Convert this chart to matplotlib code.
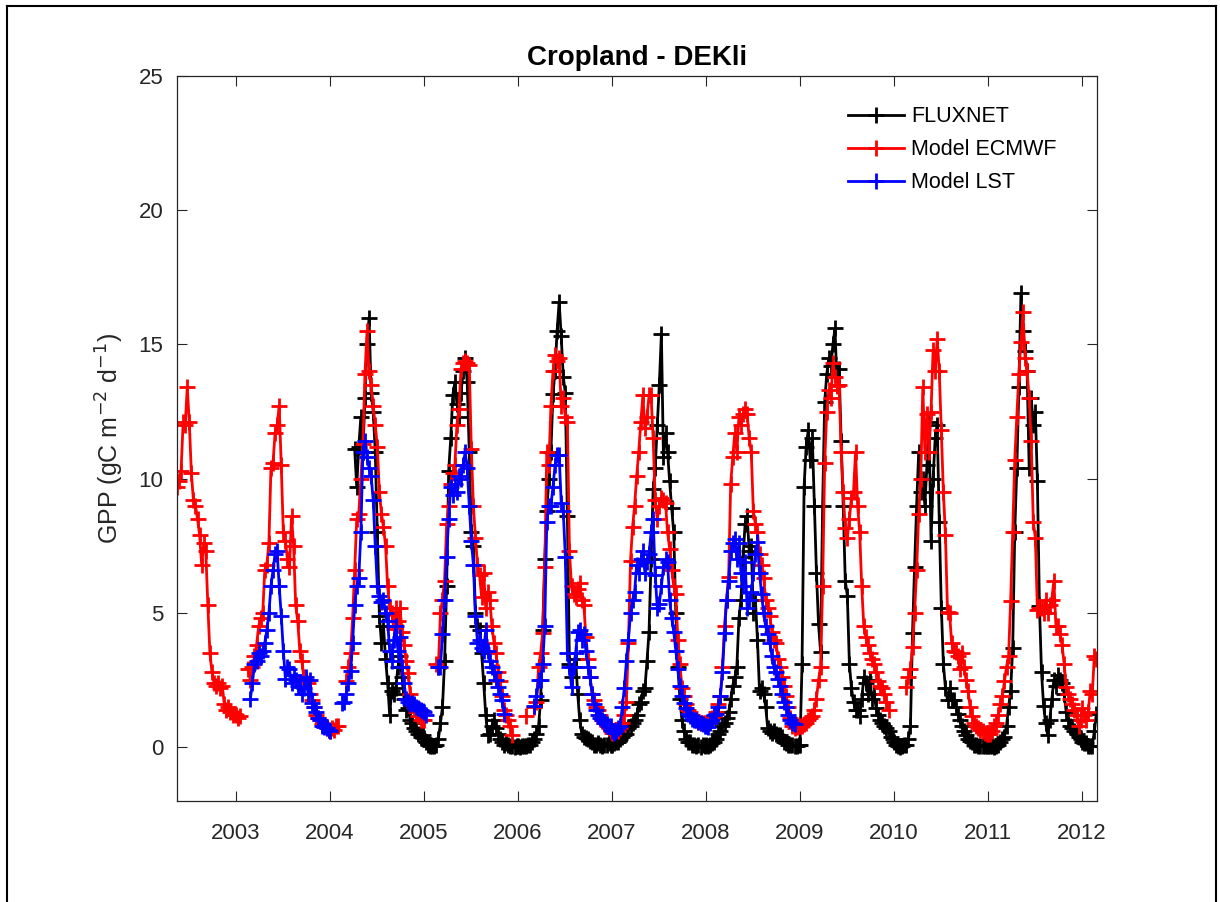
import numpy as np
import matplotlib
matplotlib.use('Agg')
from matplotlib import pyplot as plt
from matplotlib.lines import Line2D

nan = np.nan

# 8-day composites, 46 per year; the record runs from composite 17 of 2002
# to composite 7 of 2012
years = list(range(2002, 2013))
first_period = 17
last_period = 7
periods_per_year = 46

fluxnet = (
    [nan] * 29 +  # 2002
    [nan] * 46 +  # 2003
    [nan] * 12 + [11.1, 9.7, 11.2, 12.3, 11.0, 13.0, 15.0, 16.0, 13.2, 12.5, 11.0, 8.0, 4.9,
                   3.9, 4.5, 3.3, 2.4, 1.2, 2.1, 2.0, 2.2, 3.0, 3.4, 2.6, 1.8, 1.4, 1.45, 1.0,
                   0.9, 0.7, 0.6, 0.5, 0.4, 0.45] +  # 2004
    [0.35, 0.2, 0.1, 0.05, 0.05, 0.05, 0.1, 0.3, 0.9, 1.5, 3.2, 6.0, 10.3, 11.5, 13.1, 13.6,
     12.8, 12.3, 13.2, 14.0, 14.5, 13.6, 11.0, 8.0, 7.5, 5.0, 4.5, 4.35, 3.5, 2.4, 1.2, 0.45,
     0.5, 0.8, 1.0, 0.7, 0.5, 0.3, 0.2, 0.1, 0.15, 0.1, 0.05, 0.05, 0.0, 0.05] +  # 2005
    [0.05, 0.0, 0.05, 0.05, 0.05, 0.1, 0.1, 0.2, 0.3, 0.5, 0.8, 1.75, 4.35, 7.0, 8.8, 10.0,
     11.0, 13.15, 14.0, 15.5, 16.6, 15.3, 13.8, 13.2, 8.6, 3.1, 2.6, 3.0, 3.3, 2.0, 1.0, 0.5,
     0.4, 0.35, 0.3, 0.25, 0.2, 0.1, 0.1, 0.15, 0.1, 0.05, 0.1, 0.1, 0.15, 0.1] +  # 2006
    [0.1, 0.15, 0.2, 0.2, 0.3, 0.4, 0.45, 0.5, 0.7, 0.8, 0.9, 1.0, 1.2, 1.6, 1.7, 2.1, 2.2,
     3.2, 4.3, 7.0, 9.6, 10.4, 12.0, 13.5, 15.4, 10.8, 11.7, 11.0, 9.9, 8.9, 8.0, 5.0, 3.0,
     1.8, 1.0, 0.6, 0.3, 0.2, 0.2, 0.1, 0.1, 0.05, 0.1, 0.0, 0.1, 0.05] +  # 2007
    [0.1, 0.05, 0.1, 0.15, 0.2, 0.3, 0.5, 0.6, 0.8, 0.9, 1.1, 1.3, 1.8, 2.3, 2.6, 3.0, 4.8,
     5.5, 7.1, 8.3, 8.6, 7.3, 7.5, 5.0, 5.5, 4.0, 2.1, 2.2, 2.0, 1.5, 0.7, 0.6, 0.55, 0.6,
     0.5, 0.45, 0.45, 0.4, 0.2, 0.15, 0.1, 0.1, 0.1, 0.05, 0.05, 0.1] +  # 2008
    [0.1, 3.1, 9.7, 11.2, 11.8, 10.7, 11.5, 9.0, 6.5, 4.6, 3.55, 9.0, 12.85, 13.9, 14.5, 14.2,
     15.0, 15.6, 13.5, 14.1, 11.4, 9.0, 6.2, 5.65, 3.1, 2.2, 1.7, 1.4, 1.4, 1.15, 1.8, 2.6,
     2.4, 2.0, 2.5, 1.8, 2.0, 1.45, 1.2, 1.0, 0.9, 0.8, 0.7, 0.6, 0.4, 0.3] +  # 2009
    [0.2, 0.1, 0.05, 0.0, 0.05, 0.1, 0.1, 0.3, 0.8, 4.25, 6.7, 9.0, 11.0, 9.5, 10.0, 9.0,
     10.5, 12.1, 7.7, 10.0, 11.5, 12.0, 8.4, 5.2, 3.1, 2.2, 1.75, 2.2, 1.75, 1.75, 1.5, 1.25,
     1.0, 0.8, 0.6, 0.45, 0.3, 0.25, 0.2, 0.1, 0.07, 0.05, 0.05, 0.05, 0.05, 0.05] +  # 2010
    [0.05, 0.05, 0.05, 0.0, 0.05, 0.1, 0.2, 0.3, 0.4, 0.8, 1.5, 2.1, 3.7, 8.0, 10.4, 13.4,
     16.9, 15.5, 14.75, 14.0, 10.4, 13.0, 12.0, 12.5, 9.9, 5.25, 2.8, 1.55, 0.9, 0.45, 1.0,
     1.8, 2.5, 2.3, 2.7, 2.5, 2.4, 2.0, 1.3, 1.0, 0.8, 0.7, 0.6, 0.5, 0.4, 0.3] +  # 2011
    [0.2, 0.15, 0.15, 0.05, 0.05, 0.05, 0.6, 1.25]  # 2012
)

model_ecmwf = (
    [9.7, 9.9, 10.3, 12.1, 12.0, 13.4, 12.1, 10.2, 9.2, 9.0, 8.5, 7.9, 6.8, 7.6, 7.3, 5.3,
     3.5, 2.8, 2.4, 2.3, 2.4, 2.2, 2.3, 1.6, 1.4, 1.5, 1.3, 1.2, 1.25] +  # 2002
    [1.2, 1.1, 1.15, nan, nan, nan, 2.9, 2.5, 3.0, 3.4, 3.8, 4.5, 4.8, 5.0, 6.6, 6.8, 7.6,
     10.4, 10.6, 11.7, 12.0, 12.7, 10.5, 8.0, 7.7, 7.0, 6.7, 8.6, 7.5, 5.3, 4.7, 3.6, 3.2,
     2.6, 2.5, 2.4, 2.0, 1.75, 1.5, 1.2, 1.1, 1.0, 0.85, 0.8, 0.7, 0.65] +  # 2003
    [0.6, 0.7, 0.65, 0.8, 0.8, nan, nan, nan, 2.45, 3.0, 3.5, 4.8, 6.6, 8.5, 8.7, 10.0, 11.3,
     13.9, 15.5, 14.0, 13.5, 12.7, 12.0, 11.2, 9.5, 8.7, 8.2, 7.5, 6.0, 5.2, 5.0, 4.4, 5.2,
     4.7, 5.2, 4.3, 3.8, 3.2, 2.75, 2.0, 1.7, 1.5, 1.3, 1.15, 1.0, 1.0] +  # 2004
    [1.0, nan, nan, nan, nan, nan, 3.1, 3.0, 5.0, 5.5, 6.2, 8.3, 9.0, 9.8, 10.2, 10.5, 12.0,
     12.6, 14.1, 14.3, 14.4, 14.3, 14.25, 11.1, 9.0, 7.8, 6.8, 6.4, 5.6, 6.5, 5.2, 5.8, 5.5,
     4.5, 3.9, 3.5, 2.8, 2.45, 1.9, 1.4, 1.2, 1.0, 0.8, 0.45, nan, nan] +  # 2005
    [nan, nan, nan, nan, 1.15, nan, nan, nan, 1.5, 1.7, 3.0, 3.5, 4.25, 6.7, 11.0, 10.5, 12.7,
     14.0, 14.6, 14.4, 14.5, 12.7, 13.0, 12.3, 12.1, 7.3, 6.0, 5.7, 5.6, 5.9, 6.1, 5.5, 5.3,
     4.1, 3.3, 2.6, 2.0, 1.75, 1.5, 1.4, 1.2, 1.0, 0.9, 0.8, 0.7, 0.6] +  # 2006
    [0.55, 0.6, 0.65, 0.6, 0.7, 0.9, 1.2, 1.7, 3.9, 6.95, 8.2, 9.0, 10.1, 11.0, 12.1, 13.1,
     11.9, 12.3, 13.1, 13.1, 11.5, 9.2, 8.5, 9.0, 9.3, 9.2, 9.1, 8.0, 7.4, 6.6, 6.0, 5.7, 4.0,
     3.1, 2.2, 1.9, 1.6, 1.4, 1.3, 1.2, 1.1, 1.0, 0.95, 0.9, 0.9, 0.9] +  # 2007
    [0.9, 0.9, 1.0, 1.1, 1.15, 1.3, 1.6, 1.9, 3.0, 4.5, 5.5, 6.35, 9.8, 10.8, 11.7, 11.0,
     12.3, 12.0, 12.4, 12.6, 12.4, 11.5, 11.0, 8.8, 8.3, 8.0, 7.2, 6.8, 6.3, 5.5, 5.2, 4.9,
     4.3, 4.0, 3.9, 3.3, 3.0, 2.6, 2.3, 1.9, 1.5, 1.1, 0.8, 0.7, 0.75, 0.8] +  # 2008
    [0.8, 0.8, 0.85, 0.9, 1.0, 1.1, 1.15, 1.4, 1.8, 2.5, 3.0, 6.0, 10.6, 12.5, 13.3, 13.0,
     14.3, 13.8, 13.45, 13.5, 11.0, 9.5, 8.15, 7.8, 8.5, 9.3, 9.5, 11.0, 9.0, 8.0, 6.0, 4.5,
     4.1, 3.8, 3.5, 3.3, 3.1, 2.8, 2.45, 2.3, 2.2, 2.0, 1.7, 1.4, nan, nan] +  # 2009
    [nan, nan, nan, nan, nan, nan, 2.25, 2.6, 2.9, 3.75, 5.0, 6.6, 8.7, 10.0, 13.4, 11.0,
     12.4, 11.0, 12.5, 14.8, 14.0, 15.2, 14.0, 11.8, 9.5, 7.9, 5.05, 5.0, 3.9, 3.6, 3.55, 3.4,
     2.9, 3.5, 3.0, 2.5, 2.1, 1.5, 1.15, 0.9, 0.8, 0.7, 0.65, 0.6, 0.55, 0.5] +  # 2010
    [0.5, 0.5, 0.6, 0.8, 0.9, 1.2, 1.6, 1.9, 2.45, 3.0, 3.4, 5.45, 8.0, 10.7, 12.3, 13.9,
     15.1, 16.2, 14.5, 14.0, 13.0, 11.4, 8.4, 7.8, 5.1, 5.2, 5.2, 5.0, 5.5, 5.0, 5.3, 5.5,
     6.2, 4.5, 4.5, 4.2, 3.8, 3.1, 2.25, 2.0, 1.8, 1.6, 1.4, 1.2, 0.8, 1.0] +  # 2011
    [1.45, 1.2, 1.0, 1.3, 2.1, 2.0, 3.4, 3.3]  # 2012
)

model_lst = (
    [nan] * 29 +  # 2002
    [nan] * 7 + [1.8, 2.4, 3.1, 3.2, 3.5, 3.4, 3.6, 3.9, 4.35, 5.0, 6.0, 6.6, 7.2, 7.3, 6.0,
                 4.9, 3.6, 2.55, 3.0, 2.9, 2.4, 2.7, 2.5, 2.3, 2.25, 2.0, 2.2, 2.6, 2.0, 2.5,
                 1.65, 1.5, 1.3, 1.1, 1.0, 0.8, 0.75, 0.7, 0.65] +  # 2003
    [0.6, nan, nan, nan, nan, nan, 1.65, 1.7, 2.0, 2.4, 2.85, 3.9, 5.3, 6.0, 6.3, 8.0, 11.0,
     11.4, 10.8, 10.4, 10.1, 9.2, 7.5, 6.0, 5.65, 5.4, 5.5, 5.0, 4.7, 3.6, 3.2, 4.0, 4.5,
     3.6, 4.1, 3.0, 2.4, 1.8, 1.7, 1.6, 1.65, 1.6, 1.5, 1.45, 1.4, 1.35] +  # 2004
    [1.3, 1.2, nan, nan, nan, nan, nan, 3.0, 3.0, 4.2, 5.5, 7.1, 8.5, 9.7, 9.4, 9.8, 9.5,
     10.1, 10.0, 10.5, 11.0, 10.4, 9.0, 7.7, 6.8, 4.9, 3.9, 4.0, 3.7, 3.6, 4.35, 3.6, 3.2,
     3.0, 2.8, 2.5, 2.25, 2.0, 1.75, 1.25] + [nan] * 6 +  # 2005
    [nan] * 8 + [1.55, 1.9, 2.5, 2.5, 3.1, 4.5, 8.4, 9.0, 9.0, 9.7, 10.5, 10.9, 10.9, 9.1,
                 8.8, 7.1, 3.5, 3.0, 2.25, 3.0, 3.5, 4.3, 4.35, 4.0, 4.2, 3.6, 3.0, 2.6, 2.0,
                 1.6, 1.4, 1.2, 1.1, 1.0, 0.9, 0.85, 0.8, 0.8] +  # 2006
    [0.6, 0.55, 0.6, 0.7, 0.8, 1.5, 2.2, 3.2, 4.0, 5.0, 5.5, 5.8, 6.8, 6.5, 7.0, 7.3, 6.5,
     6.9, 7.2, 8.0, 8.5, 6.4, 5.2, 5.35, 6.0, 6.7, 7.0, 6.9, 5.5, 4.8, 4.3, 3.6, 2.9, 2.3,
     1.9, 1.65, 1.45, 1.25, 1.15, 1.05, 1.0, 1.0, 0.95, 0.9, 0.85, 0.8] +  # 2007
    [0.8, 0.75, 0.9, 1.0, 1.2, 1.25, 1.5, 1.9, 2.8, 4.25, 5.5, 6.2, 7.3, 7.6, 7.75, 7.0, 7.6,
     6.5, 6.0, 6.9, 5.2, 5.5, 5.8, 6.5, 7.2, 7.65, 6.5, 5.7, 5.0, 4.5, 4.2, 3.9, 3.4, 3.0,
     2.8, 2.55, 2.3, 2.0, 1.7, 1.5, 1.2, 1.0, 0.9, 0.85, nan, nan] +  # 2008
    [nan] * 46 * 3 +  # 2009 - 2011
    [nan] * 8  # 2012
)

# decimal year of every composite
times = []
for year in years:
    for k in range(periods_per_year):
        if year == years[0] and k < first_period:
            continue
        if year == years[-1] and k > last_period:
            continue
        times.append(year + k * 8 / 365.25)

plt.rcParams['font.family'] = ['Liberation Sans', 'DejaVu Sans']

fig = plt.figure(figsize=(12.2, 9.02), dpi=100)
ax = fig.add_axes([0.1451, 0.112, 0.7541, 0.8038])

style = dict(linewidth=2, markersize=11, markeredgewidth=2, marker='+')
ax.plot(times, fluxnet, color='k', label='FLUXNET', **style)
ax.plot(times, model_ecmwf, color='r', label='Model ECMWF', **style)
ax.plot(times, model_lst, color='b', label='Model LST', **style)

ax.set_xlim(2002.373, 2012.16)
ax.set_ylim(-2, 25)
ax.set_xticks(range(2003, 2013))
ax.set_xticklabels([str(y) for y in range(2003, 2013)])
ax.set_yticks([0, 5, 10, 15, 20, 25])

ax.tick_params(direction='in', length=7, width=0.8, top=True, right=True,
               labelsize=16, colors='0.15')
ax.tick_params(axis='x', pad=16)
ax.tick_params(axis='y', pad=10)
for s in ax.spines.values():
    s.set_color('0.15')
    s.set_linewidth(0.9)

ax.set_ylabel('GPP (gC m$^{-2}$ d$^{-1}$)', fontsize=18, color='0.15', labelpad=9)
ax.set_title('Cropland - DEKli', fontsize=20, fontweight='bold', pad=8)

ax.legend(loc='upper left', bbox_to_anchor=(0.729, 0.958), frameon=False, fontsize=15.5,
          borderpad=0, borderaxespad=0, handlelength=2.6, handletextpad=0.35,
          labelspacing=0.55)

# window frame around the figure
fig.add_artist(Line2D([0.0057, 0.0057], [0, 0.9933], color='k', lw=1.5))
fig.add_artist(Line2D([0.0057, 0.9967], [0.9933, 0.9933], color='k', lw=1.5))
fig.add_artist(Line2D([0.9967, 0.9967], [0, 0.9933], color='k', lw=1.5))

fig.savefig('out.png', dpi=100)
